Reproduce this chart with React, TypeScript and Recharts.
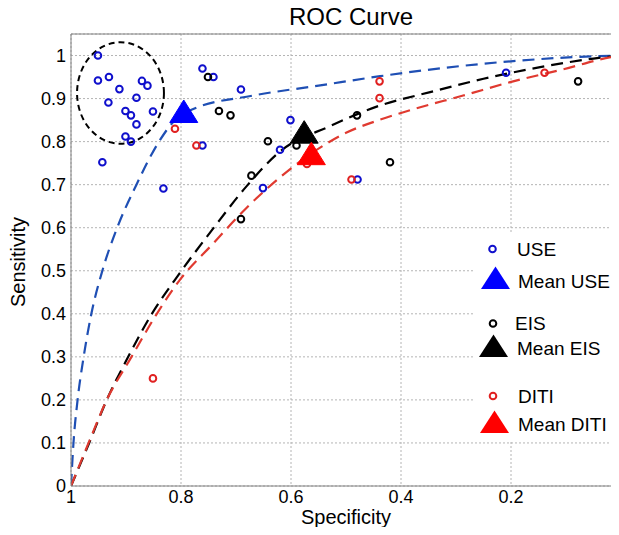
import React from 'react';
import {
  ComposedChart, XAxis, YAxis, CartesianGrid, Line, Scatter, ReferenceArea, ReferenceLine,
} from 'recharts';

const FONT = '"Liberation Sans", Arial, Helvetica, sans-serif';

const xTicks = [1, 0.8, 0.6, 0.4, 0.2, 0];
const yTicks = [0, 0.1, 0.2, 0.3, 0.4, 0.5, 0.6, 0.7, 0.8, 0.9, 1];

const useData = [
  { x: 0.951, y: 1.0 }, { x: 0.951, y: 0.942 }, { x: 0.931, y: 0.95 }, { x: 0.912, y: 0.922 },
  { x: 0.932, y: 0.891 }, { x: 0.881, y: 0.902 }, { x: 0.871, y: 0.941 }, { x: 0.861, y: 0.93 },
  { x: 0.901, y: 0.871 }, { x: 0.891, y: 0.861 }, { x: 0.881, y: 0.84 }, { x: 0.851, y: 0.87 },
  { x: 0.901, y: 0.812 }, { x: 0.891, y: 0.8 }, { x: 0.943, y: 0.752 }, { x: 0.832, y: 0.691 },
  { x: 0.761, y: 0.97 }, { x: 0.741, y: 0.95 }, { x: 0.691, y: 0.921 }, { x: 0.761, y: 0.791 },
  { x: 0.601, y: 0.85 }, { x: 0.62, y: 0.781 }, { x: 0.651, y: 0.692 }, { x: 0.479, y: 0.712 },
  { x: 0.209, y: 0.96 },
];

const eisData = [
  { x: 0.751, y: 0.95 }, { x: 0.731, y: 0.871 }, { x: 0.71, y: 0.861 }, { x: 0.672, y: 0.721 },
  { x: 0.642, y: 0.801 }, { x: 0.59, y: 0.791 }, { x: 0.691, y: 0.62 }, { x: 0.48, y: 0.861 },
  { x: 0.42, y: 0.752 }, { x: 0.078, y: 0.94 },
];

const ditiData = [
  { x: 0.811, y: 0.83 }, { x: 0.772, y: 0.791 }, { x: 0.49, y: 0.712 }, { x: 0.439, y: 0.94 },
  { x: 0.439, y: 0.901 }, { x: 0.139, y: 0.96 }, { x: 0.851, y: 0.25 }, { x: 0.571, y: 0.748 },
];

const meanUse = [{ x: 0.795, y: 0.87 }];
const meanEis = [{ x: 0.576, y: 0.822 }];
const meanDiti = [{ x: 0.563, y: 0.772 }];

const useFit = [
  { x: 1, y: 0 }, { x: 0.9955, y: 0.1 }, { x: 0.988, y: 0.2 }, { x: 0.977, y: 0.3 },
  { x: 0.963, y: 0.4 }, { x: 0.943, y: 0.5 }, { x: 0.916, y: 0.6 }, { x: 0.881, y: 0.7 },
  { x: 0.84, y: 0.8 }, { x: 0.811, y: 0.85 }, { x: 0.781, y: 0.874 }, { x: 0.669, y: 0.907 },
  { x: 0.55, y: 0.93 }, { x: 0.438, y: 0.952 }, { x: 0.317, y: 0.972 }, { x: 0.196, y: 0.987 },
  { x: 0.075, y: 0.997 }, { x: 0, y: 1 },
];

const eisFit = [
  { x: 1, y: 0 }, { x: 0.967, y: 0.1 }, { x: 0.935, y: 0.2 }, { x: 0.896, y: 0.3 },
  { x: 0.853, y: 0.4 }, { x: 0.811, y: 0.479 }, { x: 0.741, y: 0.599 }, { x: 0.681, y: 0.696 },
  { x: 0.62, y: 0.777 }, { x: 0.529, y: 0.836 }, { x: 0.438, y: 0.884 }, { x: 0.347, y: 0.915 },
  { x: 0.25, y: 0.946 }, { x: 0.147, y: 0.973 }, { x: 0.05, y: 0.993 }, { x: 0, y: 1 },
];

const ditiFit = [
  { x: 1, y: 0 }, { x: 0.968, y: 0.1 }, { x: 0.935, y: 0.2 }, { x: 0.89, y: 0.3 },
  { x: 0.844, y: 0.4 }, { x: 0.802, y: 0.479 }, { x: 0.741, y: 0.564 }, { x: 0.681, y: 0.646 },
  { x: 0.62, y: 0.717 }, { x: 0.559, y: 0.776 }, { x: 0.499, y: 0.821 }, { x: 0.438, y: 0.851 },
  { x: 0.378, y: 0.875 }, { x: 0.287, y: 0.907 }, { x: 0.196, y: 0.94 }, { x: 0.105, y: 0.968 },
  { x: 0.015, y: 0.997 }, { x: 0, y: 1 },
];

const ellipseBox = { x1: 0.989, x2: 0.831, y1: 0.795, y2: 1.031 };

const C_USE = '#0f0fcc';
const C_USE_LINE = '#1f4fb4';
const C_EIS = '#000000';
const C_DITI = '#e02020';
const C_DITI_LINE = '#e03a30';

const ring = (color: string) => (p: any) => (
  <circle cx={p.cx} cy={p.cy} r={3.3} fill="none" stroke={color} strokeWidth={2} />
);

const tri = (color: string) => (p: any) => (
  <polygon
    points={`${p.cx},${p.cy - 11.5} ${p.cx - 14},${p.cy + 11} ${p.cx + 14},${p.cy + 11}`}
    fill={color}
    stroke={color}
    strokeWidth={1}
  />
);

const ellipseShape = (p: any) => {
  const w = Math.abs(p.width);
  const h = Math.abs(p.height);
  return (
    <ellipse
      cx={p.x + w / 2}
      cy={p.y + h / 2}
      rx={w / 2}
      ry={h / 2}
      fill="none"
      stroke="#000"
      strokeWidth={2}
      strokeDasharray="6 4"
    />
  );
};

const fmt = (v: number) => String(Number(v.toFixed(1)));

const legendItems = [
  { kind: 'ring', color: C_USE, label: 'USE', mx: 22.5, my: 17, tx: 47, ty: 17 },
  { kind: 'tri', color: '#0000ff', label: 'Mean USE', mx: 25.5, my: 46, tx: 48, ty: 49 },
  { kind: 'ring', color: C_EIS, label: 'EIS', mx: 23, my: 91.5, tx: 45, ty: 91 },
  { kind: 'tri', color: '#000000', label: 'Mean EIS', mx: 23.5, my: 114, tx: 47, ty: 116 },
  { kind: 'ring', color: C_DITI, label: 'DITI', mx: 23, my: 164, tx: 48, ty: 164 },
  { kind: 'tri', color: '#ff0000', label: 'Mean DITI', mx: 24.5, my: 190, tx: 48, ty: 192 },
];

export default function App() {
  return (
    <div style={{ position: 'relative', width: 619, height: 535, overflow: 'hidden', margin: -8, background: '#fff' }}>
      <style>{'html,body{overflow:hidden;}'}</style>
      <ComposedChart width={622} height={535} margin={{ top: 34, right: 1, bottom: 0, left: 0 }}>
        <CartesianGrid stroke="#b4b4b4" strokeDasharray="2 2" />
        <XAxis
          type="number"
          dataKey="x"
          domain={[0, 1]}
          reversed
          ticks={xTicks}
          interval={0}
          tickFormatter={fmt}
          height={49}
          tickLine={false}
          tickSize={0}
          tickMargin={4}
          stroke="#808080"
          tick={{ fill: '#000', fontSize: 18, fontFamily: FONT }}
          allowDataOverflow
        />
        <YAxis
          type="number"
          dataKey="y"
          domain={[0, 1.05]}
          ticks={yTicks}
          interval={0}
          tickFormatter={fmt}
          width={71}
          tickLine={false}
          tickSize={0}
          tickMargin={5}
          stroke="#808080"
          tick={{ fill: '#000', fontSize: 18, fontFamily: FONT }}
          allowDataOverflow
        />
        <ReferenceLine y={1.05} stroke="#808080" strokeWidth={1} />
        <ReferenceArea
          x1={ellipseBox.x1}
          x2={ellipseBox.x2}
          y1={ellipseBox.y1}
          y2={ellipseBox.y2}
          shape={ellipseShape}
          ifOverflow="visible"
        />
        <Line data={useFit} dataKey="y" type="monotone" stroke={C_USE_LINE} strokeWidth={2.2} strokeDasharray="12 7" dot={false} activeDot={false} isAnimationActive={false} />
        <Line data={eisFit} dataKey="y" type="monotone" stroke={C_EIS} strokeWidth={2.2} strokeDasharray="12 7" dot={false} activeDot={false} isAnimationActive={false} />
        <Line data={ditiFit} dataKey="y" type="monotone" stroke={C_DITI_LINE} strokeWidth={2.2} strokeDasharray="12 7" dot={false} activeDot={false} isAnimationActive={false} />
        <Scatter data={useData} dataKey="y" shape={ring(C_USE)} isAnimationActive={false} />
        <Scatter data={eisData} dataKey="y" shape={ring(C_EIS)} isAnimationActive={false} />
        <Scatter data={ditiData} dataKey="y" shape={ring(C_DITI)} isAnimationActive={false} />
        <Scatter data={meanUse} dataKey="y" shape={tri('#0000ff')} isAnimationActive={false} />
        <Scatter data={meanEis} dataKey="y" shape={tri('#000000')} isAnimationActive={false} />
        <Scatter data={meanDiti} dataKey="y" shape={tri('#ff0000')} isAnimationActive={false} />
      </ComposedChart>
      <svg
        width={619}
        height={535}
        style={{ position: 'absolute', left: 0, top: 0, pointerEvents: 'none' }}
        fontFamily={FONT}
      >
        <text x={351} y={25} textAnchor="middle" fontSize={24} fill="#000">ROC Curve</text>
        <text x={346} y={524} textAnchor="middle" fontSize={20} fill="#000">Specificity</text>
        <text transform="translate(25,262) rotate(-90)" textAnchor="middle" fontSize={20} fill="#000">Sensitivity</text>
        <g transform="translate(470,232)">
          <rect x={4} y={0} width={150} height={208} fill="#fff" />
          {legendItems.map((it) => (
            <g key={it.label}>
              {it.kind === 'ring' ? (
                <circle cx={it.mx} cy={it.my} r={3.3} fill="none" stroke={it.color} strokeWidth={2} />
              ) : (
                <polygon
                  points={`${it.mx},${it.my - 11.5} ${it.mx - 14.5},${it.my + 11} ${it.mx + 14.5},${it.my + 11}`}
                  fill={it.color}
                />
              )}
              <text x={it.tx} y={it.ty} fontSize={19} fill="#000" dominantBaseline="central">{it.label}</text>
            </g>
          ))}
        </g>
      </svg>
    </div>
  );
}
